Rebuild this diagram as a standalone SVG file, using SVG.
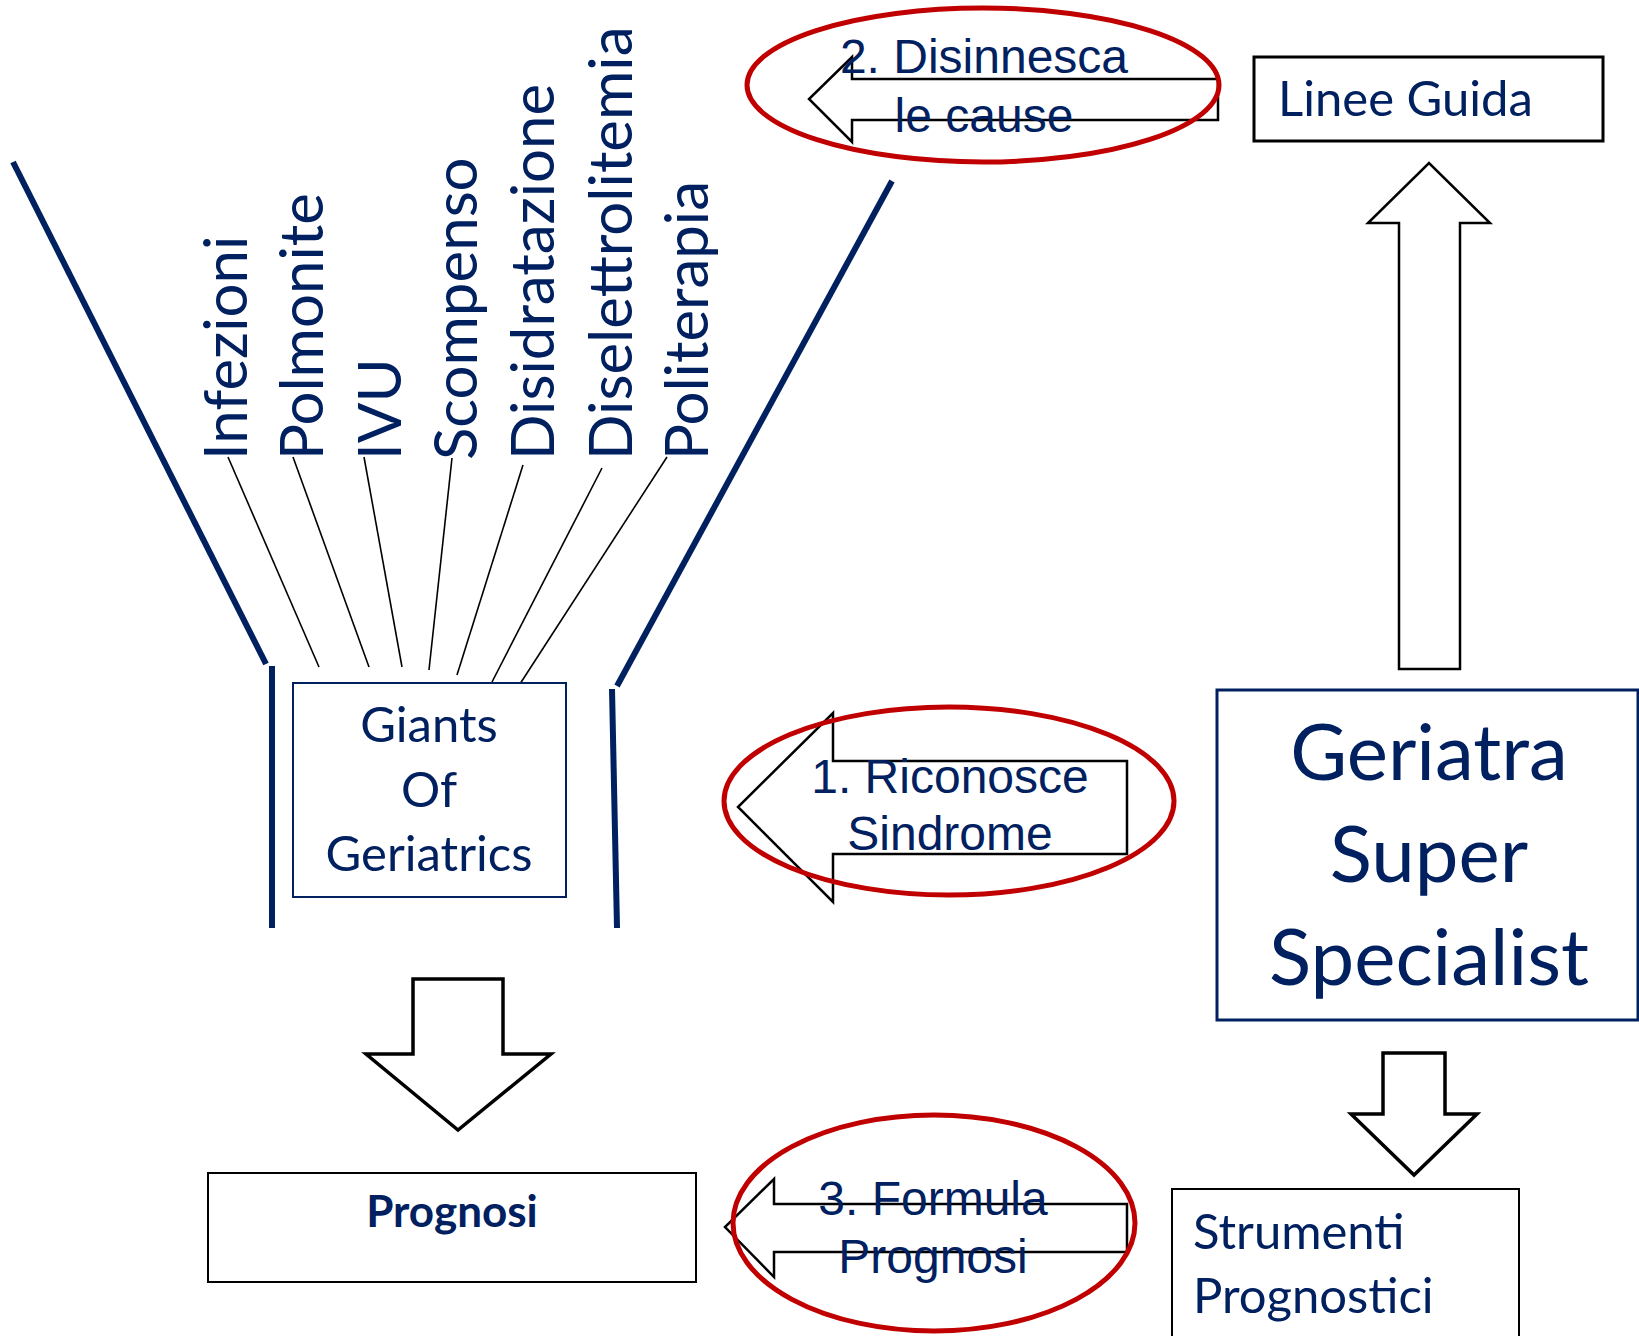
<svg xmlns="http://www.w3.org/2000/svg" width="1639" height="1336" viewBox="0 0 1639 1336">
<style>
.navy{fill:#002060;}
.lato{font-family:Lato,"Open Sans","DejaVu Sans",sans-serif;}
.arial{font-family:"Liberation Sans",Arial,sans-serif;font-size:48px;fill:#002060;}
.vt{font-family:Lato,"Open Sans","DejaVu Sans",sans-serif;font-size:60px;fill:#002060;}
.blk{fill:#fff;stroke:#000;stroke-width:2.5;stroke-linejoin:miter;}
.ring{fill:none;stroke:#C00000;stroke-width:5;}
.funnel{stroke:#002060;stroke-width:6;fill:none;}
.spoke{stroke:#000;stroke-width:1.6;fill:none;}
</style>
<rect width="1639" height="1336" fill="#fff"/>

<g id="connectors">
  <g id="funnel">
    <line class="funnel" x1="13" y1="162" x2="266" y2="664"/>
    <line class="funnel" x1="272" y1="666" x2="272" y2="928"/>
    <line class="funnel" x1="892" y1="181" x2="617" y2="686"/>
    <line class="funnel" x1="612" y1="689" x2="617" y2="928"/>
  </g>
  <g id="spokes">
    <line class="spoke" x1="228" y1="457" x2="319" y2="667"/>
    <line class="spoke" x1="293" y1="457" x2="369" y2="667"/>
    <line class="spoke" x1="364" y1="457" x2="402" y2="667"/>
    <line class="spoke" x1="452" y1="458" x2="429" y2="670"/>
    <line class="spoke" x1="523" y1="465" x2="457" y2="675"/>
    <line class="spoke" x1="602" y1="468" x2="492" y2="682"/>
    <line class="spoke" x1="667" y1="457" x2="518" y2="687"/>
  </g>
  <path id="arrow-up-linee" class="blk" d="M1399,669 L1399,223 L1368,223 L1429,163 L1490,223 L1460,223 L1460,669 Z"/>
  <path id="arrow-down-strumenti" class="blk" d="M1383,1053 L1445,1053 L1445,1114 L1477,1114 L1414,1175 L1351,1114 L1383,1114 Z" style="stroke-width:3.5"/>
  <path id="arrow-down-prognosi" class="blk" d="M413,979 L503,979 L503,1054 L551,1054 L458,1130 L366,1054 L413,1054 Z" style="stroke-width:3.5"/>
</g>

<g id="causes">
  <text class="vt" transform="translate(247,460) rotate(-90)">Infezioni</text>
  <text class="vt" transform="translate(323,460) rotate(-90)">Polmonite</text>
  <text class="vt" transform="translate(401,460) rotate(-90)">IVU</text>
  <text class="vt" transform="translate(477,460) rotate(-90)">Scompenso</text>
  <text class="vt" transform="translate(554,460) rotate(-90)">Disidratazione</text>
  <text class="vt" transform="translate(632,460) rotate(-90)">Diselettrolitemia</text>
  <text class="vt" transform="translate(708,460) rotate(-90)">Politerapia</text>
</g>

<g id="giants">
  <rect x="293" y="683" width="273" height="214" fill="#fff" stroke="#002060" stroke-width="2"/>
  <text class="lato navy" font-size="49" text-anchor="middle"><tspan x="429" y="742">Giants</tspan><tspan x="429" y="807">Of</tspan><tspan x="429" y="871">Geriatrics</tspan></text>
</g>

<g id="step2">
  <path class="blk" d="M1218,79 L852,79 L852,57 L809,99 L852,142 L852,120 L1218,120 Z"/>
  <text class="arial" text-anchor="middle"><tspan x="984" y="73">2. Disinnesca</tspan><tspan x="984" y="132">le cause</tspan></text>
  <ellipse class="ring" cx="983" cy="85" rx="236" ry="77"/>
</g>

<g id="linee-guida">
  <rect x="1254" y="57" width="349" height="84" fill="#fff" stroke="#000" stroke-width="3"/>
  <text class="lato navy" font-size="49" x="1278" y="116">Linee Guida</text>
</g>

<g id="step1">
  <path class="blk" d="M1127,761 L833,761 L833,713 L738,807 L833,902 L833,854 L1127,854 Z"/>
  <text class="arial" text-anchor="middle"><tspan x="950" y="793">1. Riconosce</tspan><tspan x="950" y="850">Sindrome</tspan></text>
  <ellipse class="ring" cx="949" cy="801" rx="225" ry="94"/>
</g>

<g id="geriatra">
  <rect x="1217" y="690" width="421" height="330" fill="#fff" stroke="#002060" stroke-width="3"/>
  <text class="lato navy" font-size="78" text-anchor="middle"><tspan x="1429" y="780">Geriatra</tspan><tspan x="1429" y="882">Super</tspan><tspan x="1429" y="985">Specialist</tspan></text>
</g>

<g id="prognosi">
  <rect x="208" y="1173" width="488" height="109" fill="#fff" stroke="#000" stroke-width="2"/>
  <text class="lato navy" font-size="44" font-weight="bold" text-anchor="middle" x="452" y="1227">Prognosi</text>
</g>

<g id="step3">
  <path class="blk" d="M1127,1204 L774,1204 L774,1179 L725,1227 L774,1277 L774,1252 L1127,1252 Z"/>
  <text class="arial" text-anchor="middle"><tspan x="933" y="1215">3. Formula</tspan><tspan x="933" y="1273">Prognosi</tspan></text>
  <ellipse class="ring" cx="934" cy="1223" rx="201" ry="108"/>
</g>

<g id="strumenti">
  <rect x="1172" y="1189" width="347" height="170" fill="#fff" stroke="#000" stroke-width="2"/>
  <text class="lato navy" font-size="49"><tspan x="1193" y="1249">Strumenti</tspan><tspan x="1193" y="1313">Prognostici</tspan></text>
</g>
</svg>
